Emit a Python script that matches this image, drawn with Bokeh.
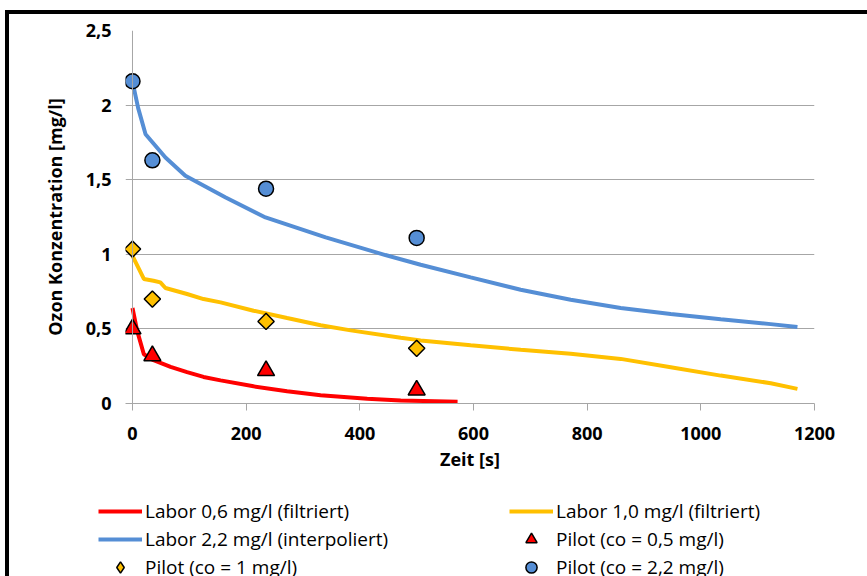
import numpy as np
from bokeh.plotting import figure
from bokeh.layouts import column
from bokeh.models import Range1d, FixedTicker, Legend, LegendItem, Span
from bokeh.embed import file_html
from bokeh.resources import INLINE

# ---- data ----
lab06_t = [0, 8, 20, 37, 67, 96, 125, 155, 213, 272, 331, 413, 472, 572]
lab06_c = [0.64, 0.49, 0.33, 0.29, 0.245, 0.21, 0.178, 0.155, 0.115, 0.082, 0.056, 0.032, 0.02, 0.012]

lab10_t = [0, 20, 37, 49, 58, 96, 125, 155, 213, 272, 331, 384, 472, 507, 595, 683, 771, 859, 947, 1035,
           1123, 1170]
lab10_c = [0.99, 0.835, 0.823, 0.812, 0.774, 0.734, 0.70, 0.678, 0.622, 0.573, 0.525, 0.49, 0.44, 0.423,
           0.39, 0.36, 0.333, 0.299, 0.243, 0.187, 0.136, 0.098]

lab22_t = [0, 10, 23, 58, 93, 164, 234, 340, 445, 507, 595, 683, 771, 859, 947, 1035, 1123, 1170]
lab22_c = [2.157, 1.98, 1.805, 1.649, 1.526, 1.381, 1.247, 1.113, 0.995, 0.93, 0.845, 0.762, 0.695,
           0.64, 0.60, 0.565, 0.532, 0.513]

pilot_t = [0, 35, 235, 500]
pilot05_c = [0.5, 0.32, 0.22, 0.09]
pilot10_c = [1.035, 0.70, 0.55, 0.37]
pilot22_c = [2.16, 1.63, 1.44, 1.11]

x_ticks = [0, 200, 400, 600, 800, 1000, 1200]
y_ticks = [0, 0.5, 1, 1.5, 2, 2.5]
y_tick_labels = ["0", "0,5", "1", "1,5", "2", "2,5"]

labels = ["Labor 0,6 mg/l (filtriert)", "Labor 1,0 mg/l (filtriert)",
          "Labor 2,2 mg/l (interpoliert)", "Pilot (co = 0,5 mg/l)",
          "Pilot (co = 1 mg/l)", "Pilot (co = 2,2 mg/l)"]

RED = "#FF0000"
YEL = "#FFC000"
BLUE = "#558ED5"
GRID = "#A6A6A6"
FONT = "Open Sans"

line_styles = [dict(line_color=RED, line_width=4),
               dict(line_color=YEL, line_width=4),
               dict(line_color=BLUE, line_width=4)]
marker_styles = [dict(marker="triangle", size=17, fill_color=RED, line_color="black", line_width=1.5),
                 dict(marker="square", angle=np.pi / 4, size=11.5, fill_color=YEL,
                      line_color="black", line_width=1.5),
                 dict(marker="circle", size=15, fill_color=BLUE, line_color="black", line_width=1.5)]


def add_series(fig, legend_swatch=False):
    ms = [dict(m) for m in marker_styles]
    if legend_swatch:
        # legend swatches are drawn unrotated, so use the diamond marker there
        ms[1].pop("angle")
        ms[1]["marker"] = "diamond"
    rs = [fig.line(lab06_t, lab06_c, **line_styles[0]),
          fig.line(lab10_t, lab10_c, **line_styles[1]),
          fig.line(lab22_t, lab22_c, **line_styles[2]),
          fig.scatter(pilot_t, pilot05_c, **ms[0]),
          fig.scatter(pilot_t, pilot10_c, **ms[1]),
          fig.scatter(pilot_t, pilot22_c, **ms[2])]
    return rs


# ---------------- chart ----------------
p = figure(width=858, height=476, output_backend="svg", toolbar_location=None,
           x_range=Range1d(-12.3, 1200), y_range=Range1d(0, 2.5),
           min_border_left=116, min_border_right=53, min_border_top=16, min_border_bottom=87)
p.frame_align = False
p.outline_line_color = None
p.background_fill_color = "white"
p.border_fill_color = "white"

p.xaxis.ticker = FixedTicker(ticks=x_ticks)
p.yaxis.ticker = FixedTicker(ticks=y_ticks)
p.yaxis.major_label_overrides = {t: l for t, l in zip(y_ticks, y_tick_labels)}
for ax in (p.xaxis[0], p.yaxis[0]):
    ax.axis_line_color = GRID
    ax.major_tick_line_color = GRID
    ax.major_tick_in = 0
    ax.major_tick_out = 7
    ax.minor_tick_line_color = None
    ax.major_label_text_font = FONT
    ax.major_label_text_font_style = "bold"
    ax.major_label_text_font_size = "18px"
    ax.major_label_text_color = "black"
    ax.axis_label_text_font = FONT
    ax.axis_label_text_font_style = "bold"
    ax.axis_label_text_font_size = "18px"
    ax.axis_label_text_color = "black"
# the value axis sits at t = 0; gridlines reach 7px further left like tick marks
p.yaxis.axis_line_color = None
p.yaxis.major_tick_out = 0
p.xaxis.axis_label = "Zeit [s]"
p.yaxis.axis_label = "Ozon Konzentration [mg/l]"
p.xaxis.major_label_standoff = 16
p.yaxis.major_label_standoff = 14
p.xaxis.axis_label_standoff = 4
p.yaxis.axis_label_standoff = 16

p.xgrid.grid_line_color = None
p.ygrid.grid_line_color = GRID
p.ygrid.grid_line_width = 1
p.add_layout(Span(location=0, dimension="height", line_color=GRID, line_width=1))

add_series(p)

# ---------------- legend strip (same series, out of view; only the legend shows) ----------------
q = figure(width=858, height=86, output_backend="svg", toolbar_location=None,
           x_range=Range1d(-2, -1), y_range=Range1d(-2, -1),
           x_axis_location=None, y_axis_location=None,
           min_border_left=0, min_border_right=0, min_border_top=0, min_border_bottom=0)
q.frame_align = False
q.outline_line_color = None
q.grid.visible = False
q.background_fill_color = "white"
q.border_fill_color = "white"

g = add_series(q, legend_swatch=True)


def make_legend(items, loc):
    lg = Legend(items=items, location=loc, orientation="vertical")
    lg.border_line_color = None
    lg.background_fill_alpha = 0
    lg.padding = 0
    lg.margin = 0
    lg.glyph_width = 44
    lg.glyph_height = 28
    lg.spacing = 0
    lg.label_standoff = 3
    lg.label_text_font = FONT
    lg.label_text_font_size = "19px"
    lg.label_text_color = "black"
    lg.label_height = 20
    return lg


leg1 = make_legend([LegendItem(label=labels[0], renderers=[g[0]]),
                    LegendItem(label=labels[2], renderers=[g[2]]),
                    LegendItem(label=labels[4], renderers=[g[4]])], (89, -5))
leg2 = make_legend([LegendItem(label=labels[1], renderers=[g[1]]),
                    LegendItem(label=labels[3], renderers=[g[3]]),
                    LegendItem(label=labels[5], renderers=[g[5]])], (500, -5))
q.add_layout(leg1)
q.add_layout(leg2)

layout = column(p, q, spacing=0, margin=(10, 0, 0, 5),
                styles={"border-top": "4px solid black", "border-left": "4px solid black"})

open("out.html", "w").write(file_html(layout, INLINE))
